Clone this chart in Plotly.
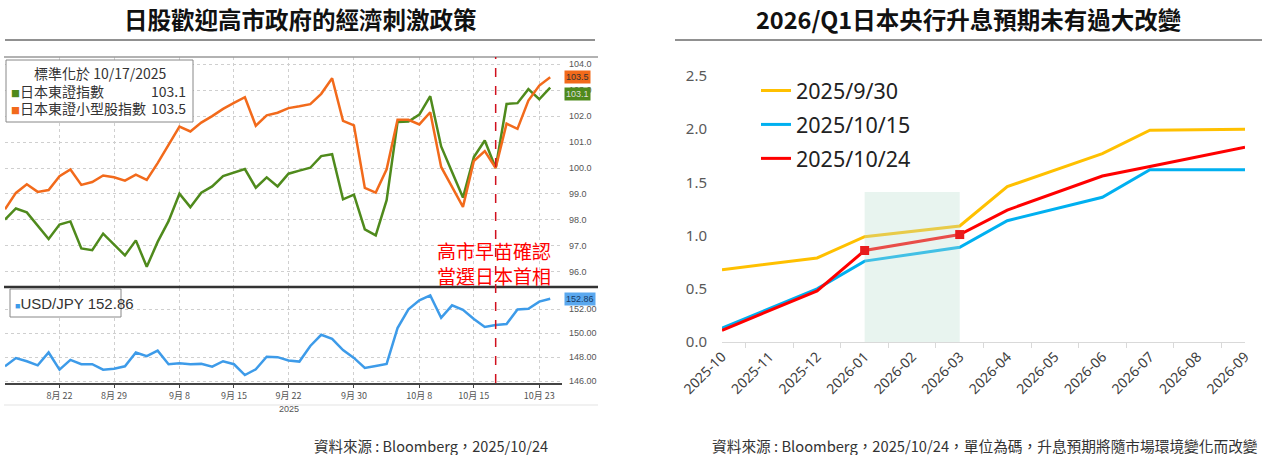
import pandas as pd
import plotly.graph_objects as go

W, H = 1266, 455

# 左圖：日本股市 (標準化於 2025/10/17 = 100) 與美元兌日圓，每個交易日
dates = pd.bdate_range("2025-08-15", "2025-10-24")

topix = [98.01, 98.44, 98.29, 97.77, 97.26, 97.82, 97.94, 96.90, 96.83, 97.47,
         97.05, 96.63, 97.21, 96.19, 97.15, 97.95, 99.01, 98.49, 99.05, 99.29,
         99.69, 99.82, 99.96, 99.24, 99.64, 99.29, 99.78, 99.90, 100.01, 100.46,
         100.53, 98.79, 98.97, 97.63, 97.40, 98.76, 101.77, 101.79, 102.06, 102.77,
         100.83, 99.85, 98.86, 100.42, 101.06, 100.00, 102.47, 102.50, 103.04, 102.65,
         103.10]

topix_small = [98.41, 99.04, 99.37, 99.08, 99.15, 99.68, 99.94, 99.35, 99.46, 99.71,
               99.64, 99.51, 99.74, 99.54, 100.19, 100.87, 101.60, 101.41, 101.75, 102.00,
               102.28, 102.51, 102.73, 101.63, 102.03, 102.13, 102.31, 102.38, 102.46, 102.86,
               103.46, 101.82, 101.64, 99.23, 99.05, 99.95, 101.86, 101.86, 101.68, 102.15,
               100.04, 99.27, 98.50, 100.27, 100.65, 100.00, 101.71, 101.51, 102.60, 103.18,
               103.50]

usdjpy = [147.24, 147.92, 147.66, 147.32, 148.39, 146.96, 147.77, 147.41, 147.41, 146.96,
          147.04, 147.24, 148.39, 148.08, 148.54, 147.41, 147.49, 147.41, 147.44, 147.21,
          147.66, 147.41, 146.51, 146.99, 148.03, 148.00, 147.72, 147.63, 148.93, 149.86,
          149.52, 148.59, 147.94, 147.10, 147.27, 147.44, 150.42, 151.97, 152.73, 153.13,
          151.27, 152.31, 151.94, 151.18, 150.51, 150.68, 150.76, 151.97, 152.03, 152.62,
          152.86]

tick_dates = ["2025-08-22", "2025-08-29", "2025-09-08", "2025-09-15", "2025-09-22",
              "2025-09-30", "2025-10-08", "2025-10-15", "2025-10-23"]
tick_text = ["8月 22", "8月 29", "9月 8", "9月 15", "9月 22", "9月 30", "10月 8", "10月 15", "10月 23"]
norm_date = "2025-10-17"

# 右圖：日本央行升息預期 (碼)
months = ["2025-10", "2025-11", "2025-12", "2026-01", "2026-02", "2026-03",
          "2026-04", "2026-05", "2026-06", "2026-07", "2026-08", "2026-09"]
meetings = ["2025-10", "2025-12", "2026-01", "2026-03", "2026-04", "2026-06", "2026-07", "2026-09"]
exp_0930 = [0.68, 0.79, 0.99, 1.09, 1.46, 1.77, 1.99, 2.00]
exp_1015 = [0.13, 0.50, 0.76, 0.89, 1.14, 1.36, 1.62, 1.62]
exp_1024 = [0.11, 0.48, 0.86, 1.01, 1.24, 1.56, 1.65, 1.83]
shade_months = ["2026-01", "2026-03"]
shade_top = 1.41

GREEN = "#4f8a1c"
ORANGE = "#f26a1b"
BLUE_FX = "#3d9be9"
CJK = "Noto Sans CJK TC"


def px(x):
    return x / W


def py(y):
    return 1 - y / H


fig = go.Figure()

fig.add_trace(go.Scatter(x=dates, y=topix, mode="lines", line=dict(color=GREEN, width=2.5),
                         xaxis="x", yaxis="y", showlegend=False))
fig.add_trace(go.Scatter(x=dates, y=topix_small, mode="lines", line=dict(color=ORANGE, width=2.5),
                         xaxis="x", yaxis="y", showlegend=False))
fig.add_trace(go.Scatter(x=dates, y=usdjpy, mode="lines", line=dict(color=BLUE_FX, width=2.5),
                         xaxis="x2", yaxis="y2", showlegend=False))

fig.add_trace(go.Scatter(x=meetings, y=exp_0930, mode="lines", name="2025/9/30",
                         line=dict(color="#ffc000", width=3), xaxis="x3", yaxis="y3", legendgroup="a"))
fig.add_trace(go.Scatter(x=meetings, y=exp_1015, mode="lines", name="2025/10/15",
                         line=dict(color="#00b0f0", width=3), xaxis="x3", yaxis="y3", legendgroup="b"))
fig.add_trace(go.Scatter(x=meetings, y=exp_1024, mode="lines", name="2025/10/24",
                         line=dict(color="#ff0000", width=3), xaxis="x3", yaxis="y3", legendgroup="c"))

# 淡綠色區塊 (蓋在線上)
fig.add_trace(go.Scatter(x=[shade_months[0], shade_months[1], shade_months[1], shade_months[0], shade_months[0]],
                         y=[0, 0, shade_top, shade_top, 0], mode="lines", fill="toself",
                         fillcolor="rgba(189,224,209,0.35)", line=dict(width=0),
                         xaxis="x3", yaxis="y3", showlegend=False, hoverinfo="skip"))

mark_y = [exp_1024[meetings.index(m)] for m in shade_months]
fig.add_trace(go.Scatter(x=shade_months, y=mark_y, mode="markers",
                         marker=dict(symbol="square", size=9, color="#e81c1c"),
                         xaxis="x3", yaxis="y3", showlegend=False))

bb_font = dict(family="Liberation Sans", size=9, color="#555")
xdom = [px(5), px(562)]
xrange = ["2025-08-15", "2025-10-27 02:00"]

fig.update_layout(
    width=W, height=H, margin=dict(l=0, r=0, t=0, b=0, pad=0, autoexpand=False),
    paper_bgcolor="white", plot_bgcolor="white",
    xaxis=dict(domain=xdom, anchor="y", type="date", range=xrange, automargin=False,
               rangebreaks=[dict(bounds=["sat", "mon"])],
               tickvals=tick_dates, showticklabels=False, ticks="",
               showgrid=True, gridcolor="#cfcfcf", griddash="dot", gridwidth=1,
               showline=False, zeroline=False),
    yaxis=dict(domain=[py(286), py(57)], anchor="x", range=[95.45, 104.28], side="right",
               tickvals=list(range(96, 105)), tickformat=".1f", tickfont=bb_font,
               ticks="", ticklabelstandoff=6, automargin=False,
               showgrid=True, gridcolor="#cfcfcf", griddash="dot", zeroline=False),
    xaxis2=dict(domain=xdom, anchor="y2", type="date", range=xrange, automargin=False,
                rangebreaks=[dict(bounds=["sat", "mon"])],
                tickvals=tick_dates, ticktext=tick_text,
                tickfont=dict(family=CJK, size=9, color="#555"),
                ticks="outside", ticklen=3, tickcolor="#444",
                showgrid=True, gridcolor="#cfcfcf", griddash="dot",
                showline=True, linecolor="#444", linewidth=1.5, zeroline=False),
    yaxis2=dict(domain=[py(383), py(288)], anchor="x2", range=[145.85, 153.75], side="right",
                tickvals=[146, 148, 150, 152], tickformat=".2f", tickfont=bb_font,
                ticks="", ticklabelstandoff=6, automargin=False,
                showgrid=True, gridcolor="#cfcfcf", griddash="dot", zeroline=False),
    xaxis3=dict(domain=[px(722), px(1245)], anchor="y3", type="category", automargin=False,
                categoryorder="array", categoryarray=months,
                tickangle=-45, tickfont=dict(family="Noto Sans", size=14, color="#404040"),
                ticks="outside", tickson="boundaries", ticklen=5, tickcolor="#d9d9d9",
                showline=True, linecolor="#d9d9d9", linewidth=1.2, showgrid=False),
    yaxis3=dict(domain=[py(342), py(76)], anchor="x3", range=[0, 2.5], automargin=False,
                tickvals=[0, 0.5, 1.0, 1.5, 2.0, 2.5], tickformat=".1f",
                tickfont=dict(family="Noto Sans", size=15, color="#595959"),
                ticklabelstandoff=14, showgrid=False, zeroline=False, showline=False),
    legend=dict(x=px(756), y=py(70), xanchor="left", yanchor="top",
                font=dict(family="Noto Sans", size=21.5, color="#222"),
                bgcolor="rgba(0,0,0,0)", tracegroupgap=3, itemwidth=30),
)

# 分隔線、框線與標題底線
shapes = [
    dict(type="line", xref="paper", yref="paper", x0=px(5), x1=px(595), y0=py(40), y1=py(40),
         line=dict(color="#222", width=1)),
    dict(type="line", xref="paper", yref="paper", x0=px(675), x1=px(1262), y0=py(40), y1=py(40),
         line=dict(color="#222", width=1)),
    dict(type="line", xref="paper", yref="paper", x0=px(4), x1=px(598), y0=py(57), y1=py(57),
         line=dict(color="#999", width=1.5)),
    dict(type="line", xref="paper", yref="paper", x0=px(4), x1=px(598), y0=py(287), y1=py(287),
         line=dict(color="#333", width=2.5)),
    dict(type="line", xref="paper", yref="paper", x0=px(4), x1=px(598), y0=py(405), y1=py(405),
         line=dict(color="#e3e3e3", width=1)),
    dict(type="line", xref="x", yref="paper", x0=norm_date, x1=norm_date, y0=py(383), y1=py(57),
         line=dict(color="#d0101e", width=1.5, dash="dash")),
    dict(type="rect", xref="paper", yref="paper", x0=px(6), x1=px(193), y0=py(122), y1=py(60),
         line=dict(color="#888", width=1), fillcolor="white", layer="above"),
    dict(type="rect", xref="paper", yref="paper", x0=px(10), x1=px(121), y0=py(317), y1=py(289),
         line=dict(color="#888", width=1), fillcolor="white", layer="above"),
]
fig.update_layout(shapes=shapes)

leg_font = dict(family=CJK, size=14, color="#333")
sq = "<span style='color:{};font-size:9px'>■</span>"
annotations = [
    dict(text="<b>日股歡迎高市政府的經濟刺激政策</b>", x=px(300), y=py(19),
         font=dict(family=CJK, size=23.5, color="#111")),
    dict(text="<b>2026/Q1日本央行升息預期未有過大改變</b>", x=px(968), y=py(19),
         font=dict(family=CJK, size=23.5, color="#111")),
    dict(text="標準化於 10/17/2025", x=px(100), y=py(73), font=leg_font),
    dict(text=sq.format(GREEN) + "日本東證指數", x=px(9), y=py(91), xanchor="left", font=leg_font),
    dict(text="103.1", x=px(188), y=py(91), xanchor="right", font=leg_font),
    dict(text=sq.format(ORANGE) + "日本東證小型股指數", x=px(9), y=py(108), xanchor="left", font=leg_font),
    dict(text="103.5", x=px(188), y=py(108), xanchor="right", font=leg_font),
    dict(text=sq.format(BLUE_FX) + "USD/JPY 152.86", x=px(13), y=py(303), xanchor="left",
         font=dict(family="Liberation Sans", size=15, color="#333")),
    dict(text="高市早苗確認<br>當選日本首相", x=px(494), y=py(263),
         font=dict(family=CJK, size=19, color="#ff0000")),
    dict(text="2025", x="2025-09-22", xref="x2", y=py(409),
         font=dict(family="Liberation Sans", size=9, color="#555")),
    dict(text="103.5", x=px(564), y=topix_small[-1], yref="y", xanchor="left",
         bgcolor=ORANGE, borderpad=1, font=dict(family="Liberation Sans", size=9, color="#333")),
    dict(text="103.1", x=px(564), y=topix[-1] - 0.25, yref="y", xanchor="left",
         bgcolor=GREEN, borderpad=1, font=dict(family="Liberation Sans", size=9, color="#ddd")),
    dict(text="152.86", x=px(564), y=usdjpy[-1], yref="y2", xanchor="left",
         bgcolor="#5aa8ef", borderpad=1, font=dict(family="Liberation Sans", size=9, color="#173a66")),
    dict(text="資料來源 : Bloomberg，2025/10/24", x=px(550), y=py(445), xanchor="right",
         font=dict(family=CJK, size=14.5, color="#333")),
    dict(text="資料來源 : Bloomberg，2025/10/24，單位為碼，升息預期將隨市場環境變化而改變",
         x=px(1260), y=py(445), xanchor="right", font=dict(family=CJK, size=14.7, color="#333")),
]
for a in annotations:
    a.setdefault("xref", "paper")
    a.setdefault("yref", "paper")
    a.setdefault("xanchor", "center")
    a.setdefault("yanchor", "middle")
    a["showarrow"] = False
fig.update_layout(annotations=annotations)

# 去掉頁面預設邊距，讓圖從左上角開始；不顯示工具列
fig.write_html("out.html", config={"displayModeBar": False},
               post_script="document.body.style.margin='0';")
